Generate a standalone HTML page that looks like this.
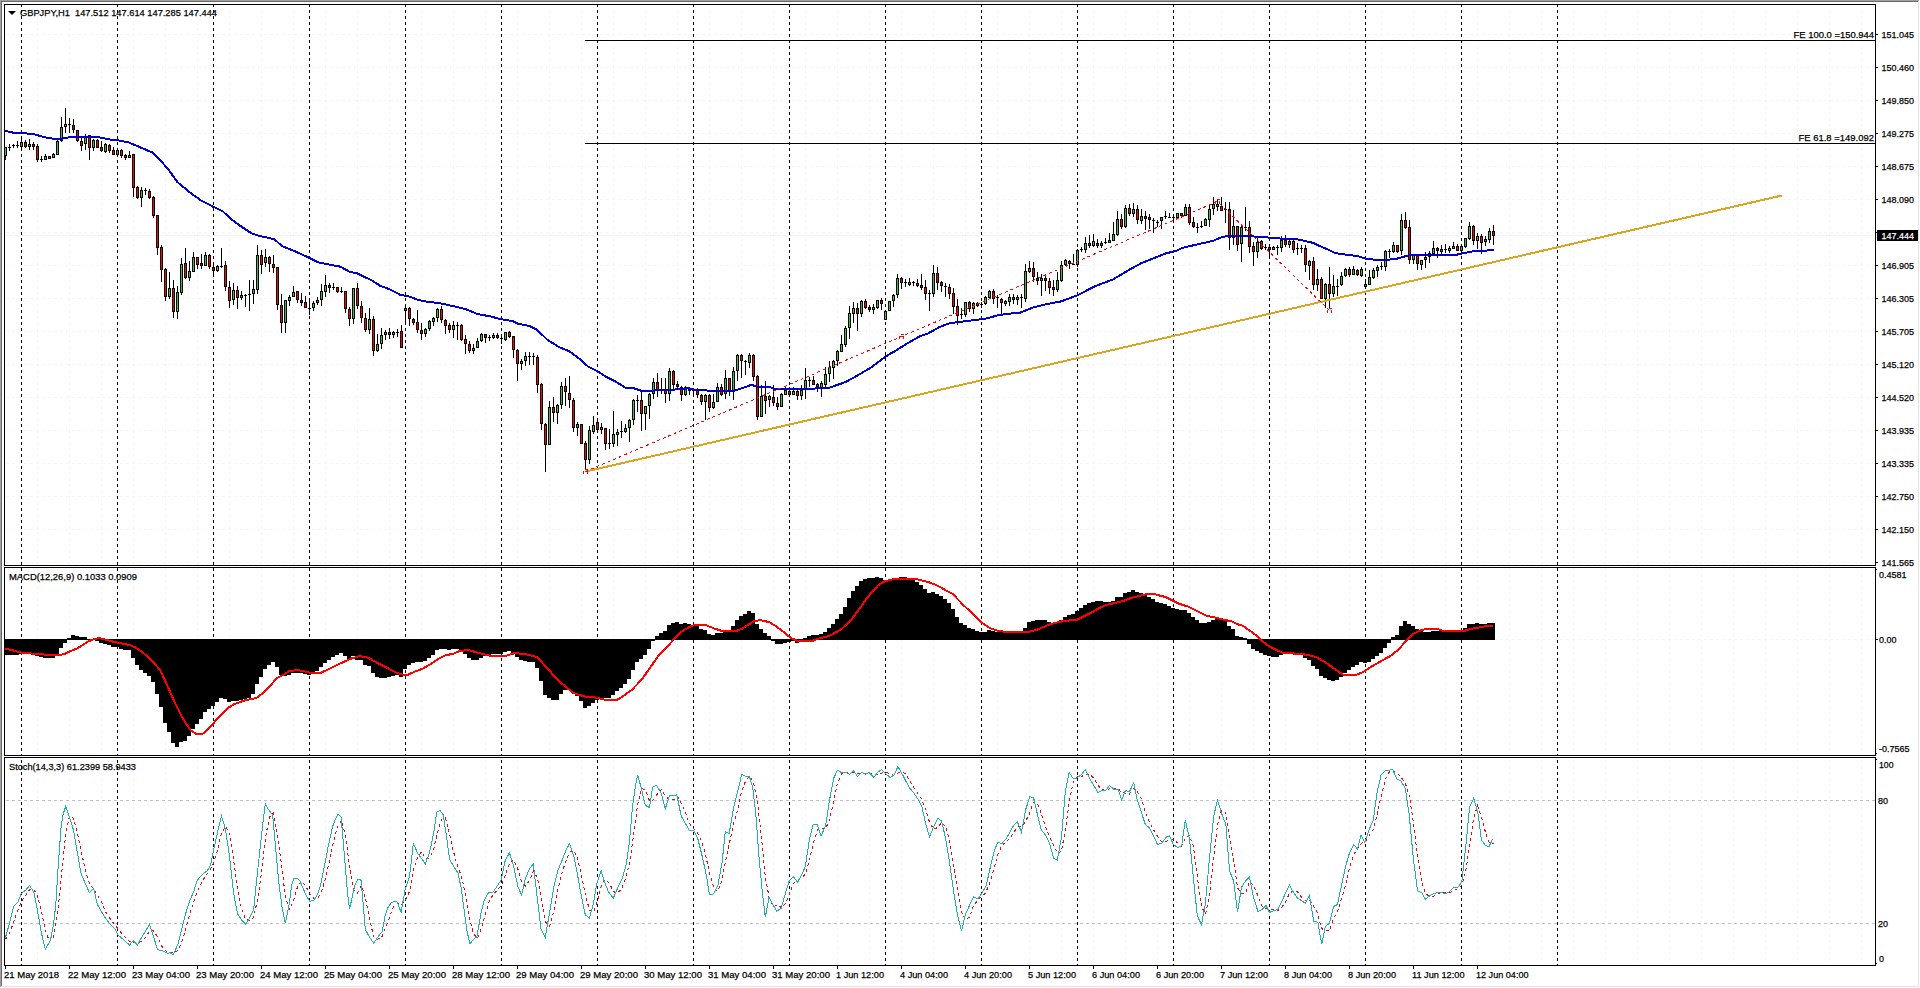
<!DOCTYPE html><html><head><meta charset="utf-8"><title>GBPJPY,H1</title>
<style>html,body{margin:0;padding:0;background:#fff;overflow:hidden}svg{display:block}text{font-family:"Liberation Sans",sans-serif;white-space:pre;fill:#000;stroke:#000;stroke-width:0.25px}</style></head><body>
<svg width="1920" height="988" viewBox="0 0 1920 988">
<rect x="0" y="0" width="1920" height="988" fill="#fff"/>
<g shape-rendering="crispEdges">
<rect x="0" y="0" width="1919" height="1" fill="#a0a0a0"/>
<rect x="0" y="0" width="1" height="987" fill="#a0a0a0"/>
<rect x="1" y="1" width="1917" height="1" fill="#696969"/>
<rect x="1" y="1" width="1" height="985" fill="#696969"/>
<rect x="1" y="986" width="1918" height="1" fill="#e3e3e3"/>
<rect x="1918" y="1" width="1" height="986" fill="#e3e3e3"/>
<path d="M37.5 4V965" stroke="#f5f5f5" stroke-width="1" stroke-dasharray="3 3" fill="none"/>
<path d="M69.5 4V965" stroke="#f5f5f5" stroke-width="1" stroke-dasharray="3 3" fill="none"/>
<path d="M101.5 4V965" stroke="#f5f5f5" stroke-width="1" stroke-dasharray="3 3" fill="none"/>
<path d="M133.5 4V965" stroke="#f5f5f5" stroke-width="1" stroke-dasharray="3 3" fill="none"/>
<path d="M165.5 4V965" stroke="#f5f5f5" stroke-width="1" stroke-dasharray="3 3" fill="none"/>
<path d="M197.5 4V965" stroke="#f5f5f5" stroke-width="1" stroke-dasharray="3 3" fill="none"/>
<path d="M229.5 4V965" stroke="#f5f5f5" stroke-width="1" stroke-dasharray="3 3" fill="none"/>
<path d="M261.5 4V965" stroke="#f5f5f5" stroke-width="1" stroke-dasharray="3 3" fill="none"/>
<path d="M293.5 4V965" stroke="#f5f5f5" stroke-width="1" stroke-dasharray="3 3" fill="none"/>
<path d="M325.5 4V965" stroke="#f5f5f5" stroke-width="1" stroke-dasharray="3 3" fill="none"/>
<path d="M357.5 4V965" stroke="#f5f5f5" stroke-width="1" stroke-dasharray="3 3" fill="none"/>
<path d="M389.5 4V965" stroke="#f5f5f5" stroke-width="1" stroke-dasharray="3 3" fill="none"/>
<path d="M421.5 4V965" stroke="#f5f5f5" stroke-width="1" stroke-dasharray="3 3" fill="none"/>
<path d="M453.5 4V965" stroke="#f5f5f5" stroke-width="1" stroke-dasharray="3 3" fill="none"/>
<path d="M485.5 4V965" stroke="#f5f5f5" stroke-width="1" stroke-dasharray="3 3" fill="none"/>
<path d="M517.5 4V965" stroke="#f5f5f5" stroke-width="1" stroke-dasharray="3 3" fill="none"/>
<path d="M549.5 4V965" stroke="#f5f5f5" stroke-width="1" stroke-dasharray="3 3" fill="none"/>
<path d="M581.5 4V965" stroke="#f5f5f5" stroke-width="1" stroke-dasharray="3 3" fill="none"/>
<path d="M613.5 4V965" stroke="#f5f5f5" stroke-width="1" stroke-dasharray="3 3" fill="none"/>
<path d="M645.5 4V965" stroke="#f5f5f5" stroke-width="1" stroke-dasharray="3 3" fill="none"/>
<path d="M677.5 4V965" stroke="#f5f5f5" stroke-width="1" stroke-dasharray="3 3" fill="none"/>
<path d="M709.5 4V965" stroke="#f5f5f5" stroke-width="1" stroke-dasharray="3 3" fill="none"/>
<path d="M741.5 4V965" stroke="#f5f5f5" stroke-width="1" stroke-dasharray="3 3" fill="none"/>
<path d="M773.5 4V965" stroke="#f5f5f5" stroke-width="1" stroke-dasharray="3 3" fill="none"/>
<path d="M805.5 4V965" stroke="#f5f5f5" stroke-width="1" stroke-dasharray="3 3" fill="none"/>
<path d="M837.5 4V965" stroke="#f5f5f5" stroke-width="1" stroke-dasharray="3 3" fill="none"/>
<path d="M869.5 4V965" stroke="#f5f5f5" stroke-width="1" stroke-dasharray="3 3" fill="none"/>
<path d="M901.5 4V965" stroke="#f5f5f5" stroke-width="1" stroke-dasharray="3 3" fill="none"/>
<path d="M933.5 4V965" stroke="#f5f5f5" stroke-width="1" stroke-dasharray="3 3" fill="none"/>
<path d="M965.5 4V965" stroke="#f5f5f5" stroke-width="1" stroke-dasharray="3 3" fill="none"/>
<path d="M997.5 4V965" stroke="#f5f5f5" stroke-width="1" stroke-dasharray="3 3" fill="none"/>
<path d="M1029.5 4V965" stroke="#f5f5f5" stroke-width="1" stroke-dasharray="3 3" fill="none"/>
<path d="M1061.5 4V965" stroke="#f5f5f5" stroke-width="1" stroke-dasharray="3 3" fill="none"/>
<path d="M1093.5 4V965" stroke="#f5f5f5" stroke-width="1" stroke-dasharray="3 3" fill="none"/>
<path d="M1125.5 4V965" stroke="#f5f5f5" stroke-width="1" stroke-dasharray="3 3" fill="none"/>
<path d="M1157.5 4V965" stroke="#f5f5f5" stroke-width="1" stroke-dasharray="3 3" fill="none"/>
<path d="M1189.5 4V965" stroke="#f5f5f5" stroke-width="1" stroke-dasharray="3 3" fill="none"/>
<path d="M1221.5 4V965" stroke="#f5f5f5" stroke-width="1" stroke-dasharray="3 3" fill="none"/>
<path d="M1253.5 4V965" stroke="#f5f5f5" stroke-width="1" stroke-dasharray="3 3" fill="none"/>
<path d="M1285.5 4V965" stroke="#f5f5f5" stroke-width="1" stroke-dasharray="3 3" fill="none"/>
<path d="M1317.5 4V965" stroke="#f5f5f5" stroke-width="1" stroke-dasharray="3 3" fill="none"/>
<path d="M1349.5 4V965" stroke="#f5f5f5" stroke-width="1" stroke-dasharray="3 3" fill="none"/>
<path d="M1381.5 4V965" stroke="#f5f5f5" stroke-width="1" stroke-dasharray="3 3" fill="none"/>
<path d="M1413.5 4V965" stroke="#f5f5f5" stroke-width="1" stroke-dasharray="3 3" fill="none"/>
<path d="M1445.5 4V965" stroke="#f5f5f5" stroke-width="1" stroke-dasharray="3 3" fill="none"/>
<path d="M1477.5 4V965" stroke="#f5f5f5" stroke-width="1" stroke-dasharray="3 3" fill="none"/>
<path d="M1509.5 4V965" stroke="#f5f5f5" stroke-width="1" stroke-dasharray="3 3" fill="none"/>
<path d="M1541.5 4V965" stroke="#f5f5f5" stroke-width="1" stroke-dasharray="3 3" fill="none"/>
<path d="M1573.5 4V965" stroke="#f5f5f5" stroke-width="1" stroke-dasharray="3 3" fill="none"/>
<path d="M1605.5 4V965" stroke="#f5f5f5" stroke-width="1" stroke-dasharray="3 3" fill="none"/>
<path d="M1637.5 4V965" stroke="#f5f5f5" stroke-width="1" stroke-dasharray="3 3" fill="none"/>
<path d="M1669.5 4V965" stroke="#f5f5f5" stroke-width="1" stroke-dasharray="3 3" fill="none"/>
<path d="M1701.5 4V965" stroke="#f5f5f5" stroke-width="1" stroke-dasharray="3 3" fill="none"/>
<path d="M1733.5 4V965" stroke="#f5f5f5" stroke-width="1" stroke-dasharray="3 3" fill="none"/>
<path d="M1765.5 4V965" stroke="#f5f5f5" stroke-width="1" stroke-dasharray="3 3" fill="none"/>
<path d="M1797.5 4V965" stroke="#f5f5f5" stroke-width="1" stroke-dasharray="3 3" fill="none"/>
<path d="M1829.5 4V965" stroke="#f5f5f5" stroke-width="1" stroke-dasharray="3 3" fill="none"/>
<path d="M1861.5 4V965" stroke="#f5f5f5" stroke-width="1" stroke-dasharray="3 3" fill="none"/>
<path d="M6 34.5H1875" stroke="#f5f5f5" stroke-width="1" stroke-dasharray="3 3" fill="none"/>
<path d="M6 67.5H1875" stroke="#f5f5f5" stroke-width="1" stroke-dasharray="3 3" fill="none"/>
<path d="M6 100.5H1875" stroke="#f5f5f5" stroke-width="1" stroke-dasharray="3 3" fill="none"/>
<path d="M6 133.5H1875" stroke="#f5f5f5" stroke-width="1" stroke-dasharray="3 3" fill="none"/>
<path d="M6 166.5H1875" stroke="#f5f5f5" stroke-width="1" stroke-dasharray="3 3" fill="none"/>
<path d="M6 199.5H1875" stroke="#f5f5f5" stroke-width="1" stroke-dasharray="3 3" fill="none"/>
<path d="M6 232.5H1875" stroke="#f5f5f5" stroke-width="1" stroke-dasharray="3 3" fill="none"/>
<path d="M6 265.5H1875" stroke="#f5f5f5" stroke-width="1" stroke-dasharray="3 3" fill="none"/>
<path d="M6 298.5H1875" stroke="#f5f5f5" stroke-width="1" stroke-dasharray="3 3" fill="none"/>
<path d="M6 331.5H1875" stroke="#f5f5f5" stroke-width="1" stroke-dasharray="3 3" fill="none"/>
<path d="M6 364.5H1875" stroke="#f5f5f5" stroke-width="1" stroke-dasharray="3 3" fill="none"/>
<path d="M6 397.5H1875" stroke="#f5f5f5" stroke-width="1" stroke-dasharray="3 3" fill="none"/>
<path d="M6 430.5H1875" stroke="#f5f5f5" stroke-width="1" stroke-dasharray="3 3" fill="none"/>
<path d="M6 463.5H1875" stroke="#f5f5f5" stroke-width="1" stroke-dasharray="3 3" fill="none"/>
<path d="M6 496.5H1875" stroke="#f5f5f5" stroke-width="1" stroke-dasharray="3 3" fill="none"/>
<path d="M6 529.5H1875" stroke="#f5f5f5" stroke-width="1" stroke-dasharray="3 3" fill="none"/>
<path d="M6 562.5H1875" stroke="#f5f5f5" stroke-width="1" stroke-dasharray="3 3" fill="none"/>
<path d="M6 639.5H1875" stroke="#f5f5f5" stroke-width="1" stroke-dasharray="3 3" fill="none"/>
<path d="M6 800.5H1875" stroke="#c0c0c0" stroke-width="1" stroke-dasharray="3 3" fill="none"/>
<path d="M6 923.5H1875" stroke="#c0c0c0" stroke-width="1" stroke-dasharray="3 3" fill="none"/>
<rect x="5" y="235" width="1870" height="1" fill="#f4f4f4"/>
<path d="M21.5 4V965" stroke="#000" stroke-width="1" stroke-dasharray="3 3" fill="none"/>
<path d="M117.5 4V965" stroke="#000" stroke-width="1" stroke-dasharray="3 3" fill="none"/>
<path d="M213.5 4V965" stroke="#000" stroke-width="1" stroke-dasharray="3 3" fill="none"/>
<path d="M309.5 4V965" stroke="#000" stroke-width="1" stroke-dasharray="3 3" fill="none"/>
<path d="M405.5 4V965" stroke="#000" stroke-width="1" stroke-dasharray="3 3" fill="none"/>
<path d="M501.5 4V965" stroke="#000" stroke-width="1" stroke-dasharray="3 3" fill="none"/>
<path d="M597.5 4V965" stroke="#000" stroke-width="1" stroke-dasharray="3 3" fill="none"/>
<path d="M693.5 4V965" stroke="#000" stroke-width="1" stroke-dasharray="3 3" fill="none"/>
<path d="M789.5 4V965" stroke="#000" stroke-width="1" stroke-dasharray="3 3" fill="none"/>
<path d="M885.5 4V965" stroke="#000" stroke-width="1" stroke-dasharray="3 3" fill="none"/>
<path d="M981.5 4V965" stroke="#000" stroke-width="1" stroke-dasharray="3 3" fill="none"/>
<path d="M1077.5 4V965" stroke="#000" stroke-width="1" stroke-dasharray="3 3" fill="none"/>
<path d="M1173.5 4V965" stroke="#000" stroke-width="1" stroke-dasharray="3 3" fill="none"/>
<path d="M1269.5 4V965" stroke="#000" stroke-width="1" stroke-dasharray="3 3" fill="none"/>
<path d="M1365.5 4V965" stroke="#000" stroke-width="1" stroke-dasharray="3 3" fill="none"/>
<path d="M1461.5 4V965" stroke="#000" stroke-width="1" stroke-dasharray="3 3" fill="none"/>
<path d="M1557.5 4V965" stroke="#000" stroke-width="1" stroke-dasharray="3 3" fill="none"/>
<path d="M5 147h1v13h-1zM9 144h1v7h-1zM13 144h1v4h-1zM17 141h1v7h-1zM21 136h1v15h-1zM25 140h1v8h-1zM29 139h1v11h-1zM33 142h1v8h-1zM37 144h1v18h-1zM41 156h1v6h-1zM45 154h1v6h-1zM49 156h1v3h-1zM53 153h1v5h-1zM57 140h1v15h-1zM61 117h1v25h-1zM65 108h1v25h-1zM69 118h1v15h-1zM73 119h1v14h-1zM77 130h1v12h-1zM81 138h1v13h-1zM85 134h1v16h-1zM89 135h1v25h-1zM93 139h1v12h-1zM97 139h1v9h-1zM101 141h1v11h-1zM105 143h1v10h-1zM109 144h1v9h-1zM113 147h1v8h-1zM117 148h1v9h-1zM121 149h1v9h-1zM125 154h1v6h-1zM129 151h1v7h-1zM133 154h1v43h-1zM137 186h1v13h-1zM141 187h1v20h-1zM145 188h1v7h-1zM149 189h1v10h-1zM153 196h1v22h-1zM157 215h1v40h-1zM161 245h1v37h-1zM165 268h1v33h-1zM169 272h1v27h-1zM173 280h1v38h-1zM177 286h1v33h-1zM181 258h1v37h-1zM185 248h1v31h-1zM189 261h1v20h-1zM193 252h1v20h-1zM197 257h1v12h-1zM201 254h1v15h-1zM205 252h1v14h-1zM209 254h1v15h-1zM213 262h1v15h-1zM217 265h1v7h-1zM221 248h1v20h-1zM225 261h1v30h-1zM229 281h1v27h-1zM233 283h1v22h-1zM237 286h1v23h-1zM241 291h1v9h-1zM245 294h1v13h-1zM249 280h1v31h-1zM253 280h1v24h-1zM257 245h1v49h-1zM261 250h1v24h-1zM265 249h1v18h-1zM269 256h1v16h-1zM273 255h1v18h-1zM277 267h1v43h-1zM281 294h1v39h-1zM285 300h1v33h-1zM289 295h1v11h-1zM293 286h1v11h-1zM297 291h1v12h-1zM301 293h1v13h-1zM305 296h1v12h-1zM309 299h1v16h-1zM313 301h1v10h-1zM317 297h1v8h-1zM321 284h1v22h-1zM325 275h1v22h-1zM329 283h1v10h-1zM333 283h1v7h-1zM337 287h1v6h-1zM341 287h1v6h-1zM345 291h1v22h-1zM349 307h1v19h-1zM353 288h1v36h-1zM357 283h1v26h-1zM361 301h1v22h-1zM365 313h1v19h-1zM369 308h1v26h-1zM373 316h1v40h-1zM377 334h1v18h-1zM381 328h1v21h-1zM385 330h1v10h-1zM389 328h1v11h-1zM393 331h1v7h-1zM397 329h1v8h-1zM401 325h1v23h-1zM405 305h1v20h-1zM409 307h1v19h-1zM413 318h1v7h-1zM417 310h1v23h-1zM421 323h1v17h-1zM425 328h1v9h-1zM429 320h1v11h-1zM433 317h1v9h-1zM437 308h1v14h-1zM441 306h1v17h-1zM445 319h1v15h-1zM449 323h1v10h-1zM453 321h1v17h-1zM457 322h1v18h-1zM461 324h1v17h-1zM465 335h1v19h-1zM469 341h1v12h-1zM473 344h1v10h-1zM477 338h1v10h-1zM481 333h1v9h-1zM485 334h1v9h-1zM489 335h1v6h-1zM493 333h1v6h-1zM497 333h1v6h-1zM501 334h1v10h-1zM505 332h1v9h-1zM509 331h1v7h-1zM513 336h1v22h-1zM517 349h1v32h-1zM521 359h1v11h-1zM525 352h1v14h-1zM529 352h1v13h-1zM533 353h1v12h-1zM537 355h1v38h-1zM541 383h1v47h-1zM545 423h1v49h-1zM549 401h1v44h-1zM553 397h1v25h-1zM557 404h1v20h-1zM561 382h1v27h-1zM565 378h1v28h-1zM569 376h1v32h-1zM573 398h1v34h-1zM577 422h1v14h-1zM581 424h1v20h-1zM585 441h1v28h-1zM589 426h1v38h-1zM593 416h1v18h-1zM597 418h1v15h-1zM601 423h1v11h-1zM605 428h1v22h-1zM609 429h1v20h-1zM613 411h1v36h-1zM617 429h1v17h-1zM621 421h1v17h-1zM625 424h1v9h-1zM629 419h1v23h-1zM633 399h1v26h-1zM637 395h1v17h-1zM641 391h1v40h-1zM645 406h1v24h-1zM649 393h1v26h-1zM653 378h1v21h-1zM657 373h1v24h-1zM661 378h1v16h-1zM665 378h1v25h-1zM669 368h1v33h-1zM673 370h1v19h-1zM677 381h1v7h-1zM681 386h1v15h-1zM685 386h1v10h-1zM689 387h1v8h-1zM693 388h1v9h-1zM697 388h1v10h-1zM701 394h1v11h-1zM705 394h1v26h-1zM709 394h1v18h-1zM713 394h1v15h-1zM717 383h1v19h-1zM721 384h1v12h-1zM725 370h1v29h-1zM729 378h1v18h-1zM733 367h1v33h-1zM737 354h1v27h-1zM741 354h1v24h-1zM745 360h1v15h-1zM749 353h1v15h-1zM753 354h1v27h-1zM757 375h1v45h-1zM761 385h1v32h-1zM765 381h1v33h-1zM769 395h1v12h-1zM773 385h1v21h-1zM777 397h1v13h-1zM781 393h1v14h-1zM785 387h1v8h-1zM789 387h1v10h-1zM793 387h1v8h-1zM797 389h1v11h-1zM801 385h1v15h-1zM805 368h1v31h-1zM809 377h1v10h-1zM813 376h1v9h-1zM817 383h1v9h-1zM821 381h1v16h-1zM825 367h1v20h-1zM829 361h1v21h-1zM833 360h1v19h-1zM837 350h1v16h-1zM841 335h1v17h-1zM845 326h1v21h-1zM849 306h1v33h-1zM853 302h1v21h-1zM857 303h1v28h-1zM861 300h1v17h-1zM865 299h1v10h-1zM869 305h1v7h-1zM873 304h1v10h-1zM877 300h1v9h-1zM881 298h1v12h-1zM885 310h1v10h-1zM889 301h1v10h-1zM893 294h1v13h-1zM897 274h1v24h-1zM901 277h1v12h-1zM905 279h1v8h-1zM909 278h1v8h-1zM913 281h1v5h-1zM917 279h1v8h-1zM921 274h1v16h-1zM925 280h1v20h-1zM929 290h1v21h-1zM933 265h1v32h-1zM937 267h1v23h-1zM941 281h1v11h-1zM945 283h1v14h-1zM949 284h1v15h-1zM953 288h1v26h-1zM957 299h1v26h-1zM961 308h1v11h-1zM965 302h1v15h-1zM969 301h1v11h-1zM973 302h1v12h-1zM977 302h1v5h-1zM981 302h1v6h-1zM985 296h1v9h-1zM989 290h1v9h-1zM993 289h1v15h-1zM997 295h1v13h-1zM1001 298h1v16h-1zM1005 300h1v6h-1zM1009 294h1v12h-1zM1013 294h1v10h-1zM1017 295h1v10h-1zM1021 294h1v14h-1zM1025 264h1v38h-1zM1029 261h1v12h-1zM1033 262h1v20h-1zM1037 272h1v13h-1zM1041 274h1v22h-1zM1045 276h1v15h-1zM1049 278h1v16h-1zM1053 280h1v16h-1zM1057 272h1v20h-1zM1061 261h1v21h-1zM1065 259h1v7h-1zM1069 260h1v9h-1zM1073 254h1v11h-1zM1077 249h1v18h-1zM1081 247h1v5h-1zM1085 237h1v16h-1zM1089 235h1v13h-1zM1093 234h1v13h-1zM1097 239h1v9h-1zM1101 241h1v7h-1zM1105 238h1v6h-1zM1109 233h1v10h-1zM1113 222h1v19h-1zM1117 211h1v25h-1zM1121 214h1v15h-1zM1125 205h1v23h-1zM1129 204h1v12h-1zM1133 203h1v14h-1zM1137 205h1v19h-1zM1141 209h1v15h-1zM1145 211h1v19h-1zM1149 214h1v15h-1zM1153 218h1v15h-1zM1157 220h1v7h-1zM1161 217h1v12h-1zM1165 211h1v8h-1zM1169 213h1v5h-1zM1173 216h1v4h-1zM1177 213h1v6h-1zM1181 213h1v5h-1zM1185 204h1v12h-1zM1189 204h1v21h-1zM1193 217h1v11h-1zM1197 223h1v10h-1zM1201 221h1v7h-1zM1205 218h1v8h-1zM1209 204h1v23h-1zM1213 197h1v18h-1zM1217 200h1v11h-1zM1221 197h1v14h-1zM1225 202h1v21h-1zM1229 202h1v48h-1zM1233 210h1v35h-1zM1237 226h1v25h-1zM1241 226h1v36h-1zM1245 207h1v24h-1zM1249 221h1v32h-1zM1253 242h1v24h-1zM1257 238h1v20h-1zM1261 240h1v10h-1zM1265 244h1v6h-1zM1269 244h1v15h-1zM1273 246h1v4h-1zM1277 245h1v10h-1zM1281 236h1v16h-1zM1285 235h1v12h-1zM1289 240h1v8h-1zM1293 240h1v13h-1zM1297 243h1v12h-1zM1301 245h1v8h-1zM1305 245h1v27h-1zM1309 260h1v20h-1zM1313 257h1v33h-1zM1317 269h1v22h-1zM1321 277h1v22h-1zM1325 283h1v25h-1zM1329 267h1v41h-1zM1333 275h1v22h-1zM1337 279h1v17h-1zM1341 272h1v14h-1zM1345 268h1v9h-1zM1349 267h1v10h-1zM1353 266h1v9h-1zM1357 269h1v7h-1zM1361 267h1v10h-1zM1365 279h1v10h-1zM1369 270h1v15h-1zM1373 268h1v11h-1zM1377 265h1v12h-1zM1381 262h1v8h-1zM1385 250h1v21h-1zM1389 249h1v9h-1zM1393 242h1v11h-1zM1397 245h1v8h-1zM1401 214h1v41h-1zM1405 212h1v17h-1zM1409 220h1v44h-1zM1413 254h1v10h-1zM1417 254h1v16h-1zM1421 260h1v10h-1zM1425 252h1v16h-1zM1429 251h1v12h-1zM1433 241h1v14h-1zM1437 247h1v11h-1zM1441 245h1v10h-1zM1445 244h1v9h-1zM1449 246h1v7h-1zM1453 242h1v7h-1zM1457 244h1v7h-1zM1461 244h1v9h-1zM1465 238h1v10h-1zM1469 222h1v18h-1zM1473 225h1v20h-1zM1477 233h1v16h-1zM1481 234h1v20h-1zM1485 236h1v10h-1zM1489 228h1v15h-1zM1493 225h1v20h-1z" fill="#000"/>
<path d="M5 147h2v9h-2zM8 147h3v1h-3zM12 145h3v1h-3zM16 145h3v1h-3zM20 142h3v5h-3zM24 142h3v5h-3zM28 144h3v3h-3zM32 144h3v3h-3zM36 146h3v14h-3zM40 159h3v1h-3zM44 156h3v4h-3zM48 156h3v3h-3zM52 154h3v4h-3zM56 141h3v14h-3zM60 127h3v14h-3zM64 124h3v3h-3zM68 124h3v1h-3zM72 125h3v5h-3zM76 130h3v11h-3zM80 141h3v5h-3zM84 136h3v8h-3zM88 135h3v13h-3zM92 140h3v8h-3zM96 140h3v8h-3zM100 147h3v4h-3zM104 144h3v8h-3zM108 145h3v6h-3zM112 150h3v5h-3zM116 150h3v5h-3zM120 150h3v6h-3zM124 155h3v3h-3zM128 155h3v3h-3zM132 154h3v34h-3zM136 187h3v11h-3zM140 190h3v8h-3zM144 190h3v1h-3zM148 191h3v7h-3zM152 197h3v19h-3zM156 215h3v33h-3zM160 247h3v23h-3zM164 269h3v28h-3zM168 288h3v9h-3zM172 288h3v24h-3zM176 292h3v20h-3zM180 264h3v29h-3zM184 263h3v15h-3zM188 271h3v7h-3zM192 257h3v15h-3zM196 257h3v8h-3zM200 263h3v3h-3zM204 255h3v11h-3zM208 255h3v12h-3zM212 267h3v4h-3zM216 266h3v5h-3zM220 266h3v1h-3zM224 265h3v22h-3zM228 287h3v14h-3zM232 290h3v10h-3zM236 290h3v8h-3zM240 295h3v3h-3zM244 295h3v1h-3zM248 294h3v1h-3zM252 289h3v5h-3zM256 255h3v35h-3zM260 255h3v10h-3zM264 257h3v6h-3zM268 257h3v7h-3zM272 264h3v4h-3zM276 267h3v38h-3zM280 305h3v18h-3zM284 300h3v23h-3zM288 297h3v4h-3zM292 292h3v5h-3zM296 291h3v9h-3zM300 300h3v3h-3zM304 302h3v6h-3zM308 308h3v1h-3zM312 303h3v5h-3zM316 300h3v3h-3zM320 291h3v9h-3zM324 285h3v7h-3zM328 285h3v3h-3zM332 287h3v1h-3zM336 287h3v5h-3zM340 291h3v1h-3zM344 291h3v18h-3zM348 309h3v10h-3zM352 288h3v31h-3zM356 288h3v18h-3zM360 306h3v12h-3zM364 318h3v12h-3zM368 319h3v11h-3zM372 319h3v32h-3zM376 344h3v7h-3zM380 335h3v9h-3zM384 332h3v3h-3zM388 332h3v3h-3zM392 332h3v3h-3zM396 332h3v1h-3zM400 331h3v17h-3zM404 308h3v3h-3zM408 308h3v11h-3zM412 319h3v4h-3zM416 322h3v8h-3zM420 330h3v4h-3zM424 329h3v5h-3zM428 321h3v8h-3zM432 318h3v4h-3zM436 309h3v9h-3zM440 309h3v11h-3zM444 320h3v6h-3zM448 325h3v5h-3zM452 325h3v5h-3zM456 325h3v1h-3zM460 325h3v15h-3zM464 339h3v5h-3zM468 344h3v7h-3zM472 348h3v3h-3zM476 341h3v7h-3zM480 334h3v7h-3zM484 334h3v4h-3zM488 337h3v1h-3zM492 335h3v3h-3zM496 335h3v3h-3zM500 338h3v1h-3zM504 332h3v8h-3zM508 332h3v5h-3zM512 336h3v14h-3zM516 350h3v14h-3zM520 361h3v3h-3zM524 356h3v5h-3zM528 356h3v1h-3zM532 356h3v1h-3zM536 357h3v28h-3zM540 384h3v40h-3zM544 424h3v21h-3zM548 407h3v38h-3zM552 407h3v6h-3zM556 405h3v8h-3zM560 386h3v19h-3zM564 386h3v6h-3zM568 393h3v7h-3zM572 400h3v28h-3zM576 424h3v4h-3zM580 424h3v20h-3zM584 443h3v17h-3zM588 430h3v30h-3zM592 425h3v7h-3zM596 422h3v8h-3zM600 427h3v3h-3zM604 428h3v16h-3zM608 443h3v1h-3zM612 434h3v10h-3zM616 432h3v3h-3zM620 431h3v1h-3zM624 428h3v4h-3zM628 420h3v8h-3zM632 400h3v20h-3zM636 400h3v1h-3zM640 400h3v14h-3zM644 406h3v8h-3zM648 394h3v12h-3zM652 382h3v12h-3zM656 382h3v8h-3zM660 390h3v1h-3zM664 390h3v4h-3zM668 371h3v23h-3zM672 371h3v14h-3zM676 384h3v3h-3zM680 387h3v8h-3zM684 387h3v8h-3zM688 388h3v3h-3zM692 390h3v1h-3zM696 390h3v5h-3zM700 395h3v7h-3zM704 395h3v7h-3zM708 395h3v13h-3zM712 402h3v6h-3zM716 387h3v15h-3zM720 387h3v8h-3zM724 378h3v16h-3zM728 378h3v14h-3zM732 371h3v21h-3zM736 355h3v16h-3zM740 355h3v6h-3zM744 361h3v1h-3zM748 355h3v8h-3zM752 355h3v22h-3zM756 376h3v41h-3zM760 396h3v21h-3zM764 396h3v5h-3zM768 396h3v4h-3zM772 397h3v6h-3zM776 403h3v4h-3zM780 394h3v13h-3zM784 390h3v5h-3zM788 391h3v4h-3zM792 391h3v4h-3zM796 391h3v5h-3zM800 390h3v6h-3zM804 380h3v10h-3zM808 380h3v1h-3zM812 380h3v5h-3zM816 384h3v3h-3zM820 383h3v5h-3zM824 374h3v11h-3zM828 367h3v7h-3zM832 361h3v7h-3zM836 351h3v10h-3zM840 344h3v8h-3zM844 328h3v17h-3zM848 313h3v15h-3zM852 308h3v6h-3zM856 308h3v6h-3zM860 301h3v13h-3zM864 301h3v7h-3zM868 307h3v3h-3zM872 307h3v3h-3zM876 300h3v8h-3zM880 300h3v4h-3zM884 311h3v9h-3zM888 301h3v10h-3zM892 295h3v6h-3zM896 278h3v17h-3zM900 278h3v5h-3zM904 282h3v1h-3zM908 282h3v3h-3zM912 282h3v1h-3zM916 283h3v3h-3zM920 285h3v3h-3zM924 287h3v7h-3zM928 293h3v1h-3zM932 273h3v21h-3zM936 273h3v10h-3zM940 282h3v4h-3zM944 286h3v1h-3zM948 287h3v7h-3zM952 293h3v14h-3zM956 306h3v10h-3zM960 314h3v1h-3zM964 302h3v13h-3zM968 302h3v7h-3zM972 303h3v6h-3zM976 303h3v3h-3zM980 304h3v1h-3zM984 297h3v7h-3zM988 291h3v7h-3zM992 291h3v8h-3zM996 297h3v1h-3zM1000 299h3v4h-3zM1004 301h3v3h-3zM1008 297h3v5h-3zM1012 297h3v3h-3zM1016 297h3v3h-3zM1020 297h3v1h-3zM1024 271h3v28h-3zM1028 268h3v4h-3zM1032 268h3v9h-3zM1036 278h3v3h-3zM1040 278h3v3h-3zM1044 278h3v3h-3zM1048 281h3v7h-3zM1052 287h3v3h-3zM1056 280h3v10h-3zM1060 265h3v16h-3zM1064 260h3v5h-3zM1068 261h3v3h-3zM1072 264h3v1h-3zM1076 250h3v15h-3zM1080 249h3v1h-3zM1084 243h3v7h-3zM1088 243h3v3h-3zM1092 241h3v5h-3zM1096 243h3v3h-3zM1100 243h3v3h-3zM1104 242h3v1h-3zM1108 240h3v3h-3zM1112 234h3v7h-3zM1116 219h3v16h-3zM1120 219h3v8h-3zM1124 208h3v19h-3zM1128 208h3v6h-3zM1132 209h3v5h-3zM1136 209h3v11h-3zM1140 216h3v5h-3zM1144 216h3v3h-3zM1148 217h3v3h-3zM1152 220h3v1h-3zM1156 222h3v1h-3zM1160 217h3v4h-3zM1164 216h3v1h-3zM1168 217h3v1h-3zM1172 217h3v1h-3zM1176 213h3v5h-3zM1180 213h3v3h-3zM1184 207h3v9h-3zM1188 207h3v16h-3zM1192 222h3v5h-3zM1196 227h3v1h-3zM1200 226h3v1h-3zM1204 219h3v7h-3zM1208 209h3v11h-3zM1212 204h3v5h-3zM1216 204h3v3h-3zM1220 206h3v5h-3zM1224 209h3v1h-3zM1228 209h3v29h-3zM1232 226h3v12h-3zM1236 226h3v19h-3zM1240 227h3v17h-3zM1244 227h3v1h-3zM1248 227h3v20h-3zM1252 246h3v6h-3zM1256 242h3v10h-3zM1260 241h3v8h-3zM1264 247h3v1h-3zM1268 247h3v3h-3zM1272 247h3v3h-3zM1276 247h3v1h-3zM1280 240h3v8h-3zM1284 240h3v5h-3zM1288 241h3v4h-3zM1292 241h3v9h-3zM1296 248h3v1h-3zM1300 248h3v1h-3zM1304 248h3v17h-3zM1308 261h3v5h-3zM1312 261h3v24h-3zM1316 279h3v6h-3zM1320 279h3v20h-3zM1324 284h3v15h-3zM1328 284h3v10h-3zM1332 286h3v8h-3zM1336 286h3v1h-3zM1340 276h3v9h-3zM1344 269h3v7h-3zM1348 269h3v6h-3zM1352 269h3v6h-3zM1356 270h3v5h-3zM1360 269h3v7h-3zM1364 284h3v3h-3zM1368 277h3v8h-3zM1372 270h3v8h-3zM1376 267h3v4h-3zM1380 266h3v1h-3zM1384 251h3v16h-3zM1388 251h3v1h-3zM1392 245h3v7h-3zM1396 245h3v7h-3zM1400 220h3v31h-3zM1404 220h3v8h-3zM1408 227h3v33h-3zM1412 255h3v5h-3zM1416 255h3v9h-3zM1420 260h3v5h-3zM1424 257h3v3h-3zM1428 253h3v4h-3zM1432 248h3v6h-3zM1436 248h3v3h-3zM1440 249h3v3h-3zM1444 249h3v1h-3zM1448 248h3v3h-3zM1452 246h3v3h-3zM1456 246h3v5h-3zM1460 246h3v5h-3zM1464 238h3v9h-3zM1468 226h3v13h-3zM1472 226h3v15h-3zM1476 236h3v5h-3zM1480 236h3v7h-3zM1484 239h3v3h-3zM1488 231h3v9h-3zM1492 231h3v5h-3z" fill="#000"/>
<path d="M25 143h1v3h-1zM33 145h1v1h-1zM37 147h1v12h-1zM49 157h1v1h-1zM73 126h1v3h-1zM77 131h1v9h-1zM81 142h1v3h-1zM89 136h1v11h-1zM97 141h1v6h-1zM101 148h1v2h-1zM109 146h1v4h-1zM113 151h1v3h-1zM121 151h1v4h-1zM125 156h1v1h-1zM133 155h1v32h-1zM137 188h1v9h-1zM149 192h1v5h-1zM153 198h1v17h-1zM157 216h1v31h-1zM161 248h1v21h-1zM165 270h1v26h-1zM173 289h1v22h-1zM185 264h1v13h-1zM197 258h1v6h-1zM201 264h1v1h-1zM209 256h1v10h-1zM213 268h1v2h-1zM225 266h1v20h-1zM229 288h1v12h-1zM237 291h1v6h-1zM261 256h1v8h-1zM269 258h1v5h-1zM273 265h1v2h-1zM277 268h1v36h-1zM281 306h1v16h-1zM297 292h1v7h-1zM301 301h1v1h-1zM305 303h1v4h-1zM329 286h1v1h-1zM337 288h1v3h-1zM345 292h1v16h-1zM349 310h1v8h-1zM357 289h1v16h-1zM361 307h1v10h-1zM365 319h1v10h-1zM373 320h1v30h-1zM389 333h1v1h-1zM401 332h1v15h-1zM409 309h1v9h-1zM413 320h1v2h-1zM417 323h1v6h-1zM421 331h1v2h-1zM441 310h1v9h-1zM445 321h1v4h-1zM449 326h1v3h-1zM461 326h1v13h-1zM465 340h1v3h-1zM469 345h1v5h-1zM485 335h1v2h-1zM497 336h1v1h-1zM509 333h1v3h-1zM513 337h1v12h-1zM517 351h1v12h-1zM537 358h1v26h-1zM541 385h1v38h-1zM545 425h1v19h-1zM553 408h1v4h-1zM565 387h1v4h-1zM569 394h1v5h-1zM573 401h1v26h-1zM581 425h1v18h-1zM585 444h1v15h-1zM597 423h1v6h-1zM605 429h1v14h-1zM641 401h1v12h-1zM657 383h1v6h-1zM665 391h1v2h-1zM673 372h1v12h-1zM677 385h1v1h-1zM681 388h1v6h-1zM689 389h1v1h-1zM697 391h1v3h-1zM701 396h1v5h-1zM709 396h1v11h-1zM721 388h1v6h-1zM729 379h1v12h-1zM741 356h1v4h-1zM753 356h1v20h-1zM757 377h1v39h-1zM765 397h1v3h-1zM773 398h1v4h-1zM777 404h1v2h-1zM789 392h1v2h-1zM797 392h1v3h-1zM813 381h1v3h-1zM817 385h1v1h-1zM857 309h1v4h-1zM865 302h1v5h-1zM869 308h1v1h-1zM881 301h1v2h-1zM901 279h1v3h-1zM917 284h1v1h-1zM921 286h1v1h-1zM925 288h1v5h-1zM937 274h1v8h-1zM941 283h1v2h-1zM949 288h1v5h-1zM953 294h1v12h-1zM957 307h1v8h-1zM969 303h1v5h-1zM977 304h1v1h-1zM993 292h1v6h-1zM1001 300h1v2h-1zM1013 298h1v1h-1zM1033 269h1v7h-1zM1037 279h1v1h-1zM1045 279h1v1h-1zM1049 282h1v5h-1zM1053 288h1v1h-1zM1069 262h1v1h-1zM1089 244h1v1h-1zM1097 244h1v1h-1zM1121 220h1v6h-1zM1129 209h1v4h-1zM1137 210h1v9h-1zM1145 217h1v1h-1zM1149 218h1v1h-1zM1181 214h1v1h-1zM1189 208h1v14h-1zM1193 223h1v3h-1zM1221 207h1v3h-1zM1229 210h1v27h-1zM1237 227h1v17h-1zM1249 228h1v18h-1zM1253 247h1v4h-1zM1261 242h1v6h-1zM1269 248h1v1h-1zM1285 241h1v3h-1zM1293 242h1v7h-1zM1305 249h1v15h-1zM1313 262h1v22h-1zM1321 280h1v18h-1zM1329 285h1v8h-1zM1349 270h1v4h-1zM1357 271h1v3h-1zM1397 246h1v5h-1zM1405 221h1v6h-1zM1409 228h1v31h-1zM1417 256h1v7h-1zM1437 249h1v1h-1zM1457 247h1v3h-1zM1473 227h1v13h-1zM1481 237h1v5h-1zM1493 232h1v3h-1z" fill="#ff0000"/>
<path d="M5 148h1v7h-1zM21 143h1v3h-1zM29 145h1v1h-1zM45 157h1v2h-1zM53 155h1v2h-1zM57 142h1v12h-1zM61 128h1v12h-1zM65 125h1v1h-1zM85 137h1v6h-1zM93 141h1v6h-1zM105 145h1v6h-1zM117 151h1v3h-1zM129 156h1v1h-1zM141 191h1v6h-1zM169 289h1v7h-1zM177 293h1v18h-1zM181 265h1v27h-1zM189 272h1v5h-1zM193 258h1v13h-1zM205 256h1v9h-1zM217 267h1v3h-1zM233 291h1v8h-1zM241 296h1v1h-1zM253 290h1v3h-1zM257 256h1v33h-1zM265 258h1v4h-1zM285 301h1v21h-1zM289 298h1v2h-1zM293 293h1v3h-1zM313 304h1v3h-1zM317 301h1v1h-1zM321 292h1v7h-1zM325 286h1v5h-1zM353 289h1v29h-1zM369 320h1v9h-1zM377 345h1v5h-1zM381 336h1v7h-1zM385 333h1v1h-1zM393 333h1v1h-1zM405 309h1v1h-1zM425 330h1v3h-1zM429 322h1v6h-1zM433 319h1v2h-1zM437 310h1v7h-1zM453 326h1v3h-1zM473 349h1v1h-1zM477 342h1v5h-1zM481 335h1v5h-1zM493 336h1v1h-1zM505 333h1v6h-1zM521 362h1v1h-1zM525 357h1v3h-1zM549 408h1v36h-1zM557 406h1v6h-1zM561 387h1v17h-1zM577 425h1v2h-1zM589 431h1v28h-1zM593 426h1v5h-1zM601 428h1v1h-1zM613 435h1v8h-1zM617 433h1v1h-1zM625 429h1v2h-1zM629 421h1v6h-1zM633 401h1v18h-1zM645 407h1v6h-1zM649 395h1v10h-1zM653 383h1v10h-1zM669 372h1v21h-1zM685 388h1v6h-1zM705 396h1v5h-1zM713 403h1v4h-1zM717 388h1v13h-1zM725 379h1v14h-1zM733 372h1v19h-1zM737 356h1v14h-1zM749 356h1v6h-1zM761 397h1v19h-1zM769 397h1v2h-1zM781 395h1v11h-1zM785 391h1v3h-1zM793 392h1v2h-1zM801 391h1v4h-1zM805 381h1v8h-1zM821 384h1v3h-1zM825 375h1v9h-1zM829 368h1v5h-1zM833 362h1v5h-1zM837 352h1v8h-1zM841 345h1v6h-1zM845 329h1v15h-1zM849 314h1v13h-1zM853 309h1v4h-1zM861 302h1v11h-1zM873 308h1v1h-1zM877 301h1v6h-1zM885 312h1v7h-1zM889 302h1v8h-1zM893 296h1v4h-1zM897 279h1v15h-1zM909 283h1v1h-1zM933 274h1v19h-1zM965 303h1v11h-1zM973 304h1v4h-1zM985 298h1v5h-1zM989 292h1v5h-1zM1005 302h1v1h-1zM1009 298h1v3h-1zM1017 298h1v1h-1zM1025 272h1v26h-1zM1029 269h1v2h-1zM1041 279h1v1h-1zM1057 281h1v8h-1zM1061 266h1v14h-1zM1065 261h1v3h-1zM1077 251h1v13h-1zM1085 244h1v5h-1zM1093 242h1v3h-1zM1101 244h1v1h-1zM1109 241h1v1h-1zM1113 235h1v5h-1zM1117 220h1v14h-1zM1125 209h1v17h-1zM1133 210h1v3h-1zM1141 217h1v3h-1zM1161 218h1v2h-1zM1177 214h1v3h-1zM1185 208h1v7h-1zM1205 220h1v5h-1zM1209 210h1v9h-1zM1213 205h1v3h-1zM1217 205h1v1h-1zM1233 227h1v10h-1zM1241 228h1v15h-1zM1257 243h1v8h-1zM1273 248h1v1h-1zM1281 241h1v6h-1zM1289 242h1v2h-1zM1309 262h1v3h-1zM1317 280h1v4h-1zM1325 285h1v13h-1zM1333 287h1v6h-1zM1341 277h1v7h-1zM1345 270h1v5h-1zM1353 270h1v4h-1zM1361 270h1v5h-1zM1365 285h1v1h-1zM1369 278h1v6h-1zM1373 271h1v6h-1zM1377 268h1v2h-1zM1385 252h1v14h-1zM1393 246h1v5h-1zM1401 221h1v29h-1zM1413 256h1v3h-1zM1421 261h1v3h-1zM1425 258h1v1h-1zM1429 254h1v2h-1zM1433 249h1v4h-1zM1441 250h1v1h-1zM1449 249h1v1h-1zM1453 247h1v1h-1zM1461 247h1v3h-1zM1465 239h1v7h-1zM1469 227h1v11h-1zM1477 237h1v3h-1zM1485 240h1v1h-1zM1489 232h1v7h-1z" fill="#2ec82e"/>
<polyline points="5.2,130.8 13.6,132.8 24.0,133.2 34.4,134.4 45.9,137.5 55.3,139.1 62.6,138.6 70.9,137.0 88.6,136.7 100.1,137.5 109.5,139.4 120.0,140.6 128.8,142.5 138.8,146.7 152.6,152.6 160.2,160.0 169.0,170.3 177.5,182.2 190.0,192.5 201.6,200.9 214.1,207.2 222.9,211.5 231.7,219.7 240.5,226.0 251.8,233.5 258.0,235.6 274.4,239.2 281.9,246.1 293.2,250.5 308.3,257.4 318.3,262.4 332.1,265.2 340.5,266.7 350.0,272.0 356.3,273.0 372.6,280.8 380.2,285.8 390.2,289.5 400.2,294.8 410.3,296.7 417.8,299.8 426.6,301.7 440.4,303.3 453.0,306.1 465.5,309.0 476.8,313.8 490.6,316.5 499.4,318.8 513.2,321.3 518.2,323.8 529.5,325.9 537.0,329.8 547.4,339.8 558.7,346.9 569.3,351.2 580.2,359.4 587.9,366.4 596.6,370.8 606.7,377.1 615.5,381.5 625.5,387.7 633.0,388.0 641.8,390.9 653.1,390.9 655.6,389.9 673.2,389.9 677.0,389.0 688.3,388.4 695.8,390.0 705.8,390.0 708.4,391.1 732.6,391.3 751.4,384.9 757.7,386.7 770.2,387.1 774.0,388.6 812.9,388.6 829.2,387.7 845.5,382.1 858.0,375.2 870.6,367.7 885.7,356.4 895.7,350.7 908.3,342.8 920.8,335.8 927.1,334.0 939.9,326.8 950.6,322.9 957.8,322.2 972.9,320.3 986.7,318.4 998.0,315.3 1008.0,313.8 1020.4,312.6 1033.6,307.3 1046.9,304.0 1060.7,301.5 1077.5,295.3 1095.0,286.2 1112.7,279.6 1128.3,270.3 1140.8,263.4 1153.4,258.4 1165.9,253.4 1176.3,250.9 1182.6,247.8 1214.0,240.6 1220.0,237.7 1227.8,235.9 1252.9,235.9 1255.4,237.1 1265.4,237.1 1273.0,238.4 1293.0,238.7 1301.8,240.2 1313.5,243.0 1320.7,246.5 1327.3,249.2 1335.5,253.2 1347.4,254.9 1357.0,255.9 1365.6,258.7 1377.0,260.0 1386.0,260.0 1396.7,258.7 1409.2,255.2 1440.6,255.2 1457.0,254.6 1472.0,251.5 1483.3,250.8 1493.6,250.0" stroke="#0000cd" stroke-width="2" fill="none" stroke-linejoin="round"/>
<rect x="585" y="40" width="1290" height="1" fill="#000"/>
<rect x="585" y="143" width="1290" height="1" fill="#000"/>
<path d="M586 471.5L1782 195.5" stroke="#DAA520" stroke-width="2" fill="none"/>
<path d="M585.5 471.5L1217.5 201.5L1329.5 310.5" stroke="#ff0000" stroke-width="1" stroke-dasharray="3 3" fill="none"/>
<path d="M585 469h3v1h-3zM583 471h1v3h-1zM587 471h1v3h-1zM901 334h3v1h-3zM899 336h1v3h-1zM903 336h1v3h-1zM1217 199h3v1h-3zM1215 201h1v3h-1zM1219 201h1v3h-1zM1329 308h3v1h-3zM1327 310h1v3h-1zM1331 310h1v3h-1z" fill="#ff0000"/>
<path d="M5 639h2v16h-2zM7 639h4v16h-4zM11 639h4v16h-4zM15 639h4v16h-4zM19 639h4v15h-4zM23 639h4v15h-4zM27 639h4v15h-4zM31 639h4v16h-4zM35 639h4v17h-4zM39 639h4v18h-4zM43 639h4v19h-4zM47 639h4v19h-4zM51 639h4v19h-4zM55 639h4v16h-4zM59 639h4v9h-4zM63 639h4v4h-4zM67 638h4v2h-4zM71 635h4v5h-4zM75 636h4v4h-4zM79 637h4v3h-4zM83 637h4v3h-4zM87 639h4v1h-4zM91 639h4v1h-4zM95 639h4v2h-4zM99 639h4v4h-4zM103 639h4v5h-4zM107 639h4v6h-4zM111 639h4v8h-4zM115 639h4v8h-4zM119 639h4v10h-4zM123 639h4v11h-4zM127 639h4v11h-4zM131 639h4v19h-4zM135 639h4v26h-4zM139 639h4v31h-4zM143 639h4v34h-4zM147 639h4v37h-4zM151 639h4v43h-4zM155 639h4v55h-4zM159 639h4v68h-4zM163 639h4v84h-4zM167 639h4v93h-4zM171 639h4v104h-4zM175 639h4v108h-4zM179 639h4v103h-4zM183 639h4v102h-4zM187 639h4v97h-4zM191 639h4v90h-4zM195 639h4v85h-4zM199 639h4v80h-4zM203 639h4v73h-4zM207 639h4v70h-4zM211 639h4v67h-4zM215 639h4v63h-4zM219 639h4v59h-4zM223 639h4v60h-4zM227 639h4v63h-4zM231 639h4v62h-4zM235 639h4v62h-4zM239 639h4v61h-4zM243 639h4v60h-4zM247 639h4v59h-4zM251 639h4v55h-4zM255 639h4v45h-4zM259 639h4v38h-4zM263 639h4v30h-4zM267 639h4v26h-4zM271 639h4v23h-4zM275 639h4v28h-4zM279 639h4v36h-4zM283 639h4v37h-4zM287 639h4v36h-4zM291 639h4v34h-4zM295 639h4v34h-4zM299 639h4v34h-4zM303 639h4v35h-4zM307 639h4v36h-4zM311 639h4v33h-4zM315 639h4v32h-4zM319 639h4v28h-4zM323 639h4v24h-4zM327 639h4v21h-4zM331 639h4v18h-4zM335 639h4v16h-4zM339 639h4v14h-4zM343 639h4v17h-4zM347 639h4v20h-4zM351 639h4v17h-4zM355 639h4v21h-4zM359 639h4v21h-4zM363 639h4v26h-4zM367 639h4v27h-4zM371 639h4v34h-4zM375 639h4v38h-4zM379 639h4v39h-4zM383 639h4v39h-4zM387 639h4v38h-4zM391 639h4v37h-4zM395 639h4v36h-4zM399 639h4v38h-4zM403 639h4v30h-4zM407 639h4v26h-4zM411 639h4v24h-4zM415 639h4v23h-4zM419 639h4v23h-4zM423 639h4v22h-4zM427 639h4v19h-4zM431 639h4v16h-4zM435 639h4v11h-4zM439 639h4v10h-4zM443 639h4v10h-4zM447 639h4v11h-4zM451 639h4v10h-4zM455 639h4v10h-4zM459 639h4v11h-4zM463 639h4v15h-4zM467 639h4v19h-4zM471 639h4v21h-4zM475 639h4v21h-4zM479 639h4v19h-4zM483 639h4v17h-4zM487 639h4v16h-4zM491 639h4v15h-4zM495 639h4v15h-4zM499 639h4v15h-4zM503 639h4v13h-4zM507 639h4v12h-4zM511 639h4v14h-4zM515 639h4v18h-4zM519 639h4v21h-4zM523 639h4v22h-4zM527 639h4v23h-4zM531 639h4v23h-4zM535 639h4v29h-4zM539 639h4v42h-4zM543 639h4v56h-4zM547 639h4v59h-4zM551 639h4v61h-4zM555 639h4v61h-4zM559 639h4v55h-4zM563 639h4v51h-4zM567 639h4v51h-4zM571 639h4v54h-4zM575 639h4v57h-4zM579 639h4v62h-4zM583 639h4v69h-4zM587 639h4v67h-4zM591 639h4v64h-4zM595 639h4v61h-4zM599 639h4v60h-4zM603 639h4v59h-4zM607 639h4v59h-4zM611 639h4v56h-4zM615 639h4v52h-4zM619 639h4v49h-4zM623 639h4v45h-4zM627 639h4v40h-4zM631 639h4v31h-4zM635 639h4v23h-4zM639 639h4v20h-4zM643 639h4v16h-4zM647 639h4v10h-4zM651 639h4v2h-4zM655 636h4v4h-4zM659 633h4v7h-4zM663 631h4v9h-4zM667 625h4v15h-4zM671 623h4v17h-4zM675 622h4v18h-4zM679 624h4v16h-4zM683 623h4v17h-4zM687 624h4v16h-4zM691 625h4v15h-4zM695 626h4v14h-4zM699 629h4v11h-4zM703 630h4v10h-4zM707 634h4v6h-4zM711 635h4v5h-4zM715 633h4v7h-4zM719 633h4v7h-4zM723 632h4v8h-4zM727 632h4v8h-4zM731 626h4v14h-4zM735 620h4v20h-4zM739 616h4v24h-4zM743 614h4v26h-4zM747 611h4v29h-4zM751 613h4v27h-4zM755 624h4v16h-4zM759 629h4v11h-4zM763 633h4v7h-4zM767 636h4v4h-4zM771 639h4v2h-4zM775 639h4v5h-4zM779 639h4v5h-4zM783 639h4v4h-4zM787 639h4v3h-4zM791 639h4v2h-4zM795 639h4v4h-4zM799 639h4v1h-4zM803 638h4v2h-4zM807 636h4v4h-4zM811 635h4v5h-4zM815 635h4v5h-4zM819 634h4v6h-4zM823 632h4v8h-4zM827 628h4v12h-4zM831 624h4v16h-4zM835 619h4v21h-4zM839 614h4v26h-4zM843 607h4v33h-4zM847 598h4v42h-4zM851 591h4v49h-4zM855 586h4v54h-4zM859 581h4v59h-4zM863 579h4v61h-4zM867 578h4v62h-4zM871 578h4v62h-4zM875 577h4v63h-4zM879 578h4v62h-4zM883 580h4v60h-4zM887 580h4v60h-4zM891 579h4v61h-4zM895 578h4v62h-4zM899 577h4v63h-4zM903 577h4v63h-4zM907 578h4v62h-4zM911 579h4v61h-4zM915 582h4v58h-4zM919 585h4v55h-4zM923 589h4v51h-4zM927 593h4v47h-4zM931 592h4v48h-4zM935 594h4v46h-4zM939 596h4v44h-4zM943 599h4v41h-4zM947 603h4v37h-4zM951 609h4v31h-4zM955 617h4v23h-4zM959 623h4v17h-4zM963 625h4v15h-4zM967 628h4v12h-4zM971 629h4v11h-4zM975 631h4v9h-4zM979 632h4v8h-4zM983 632h4v8h-4zM987 630h4v10h-4zM991 631h4v9h-4zM995 632h4v8h-4zM999 632h4v8h-4zM1003 633h4v7h-4zM1007 632h4v8h-4zM1011 632h4v8h-4zM1015 632h4v8h-4zM1019 632h4v8h-4zM1023 628h4v12h-4zM1027 622h4v18h-4zM1031 621h4v19h-4zM1035 620h4v20h-4zM1039 620h4v20h-4zM1043 620h4v20h-4zM1047 622h4v18h-4zM1051 623h4v17h-4zM1055 622h4v18h-4zM1059 620h4v20h-4zM1063 617h4v23h-4zM1067 615h4v25h-4zM1071 614h4v26h-4zM1075 611h4v29h-4zM1079 608h4v32h-4zM1083 605h4v35h-4zM1087 603h4v37h-4zM1091 602h4v38h-4zM1095 601h4v39h-4zM1099 601h4v39h-4zM1103 602h4v38h-4zM1107 602h4v38h-4zM1111 601h4v39h-4zM1115 597h4v43h-4zM1119 597h4v43h-4zM1123 593h4v47h-4zM1127 592h4v48h-4zM1131 590h4v50h-4zM1135 592h4v48h-4zM1139 593h4v47h-4zM1143 595h4v45h-4zM1147 597h4v43h-4zM1151 599h4v41h-4zM1155 602h4v38h-4zM1159 603h4v37h-4zM1163 604h4v36h-4zM1167 606h4v34h-4zM1171 608h4v32h-4zM1175 609h4v31h-4zM1179 610h4v30h-4zM1183 610h4v30h-4zM1187 613h4v27h-4zM1191 617h4v23h-4zM1195 620h4v20h-4zM1199 623h4v17h-4zM1203 623h4v17h-4zM1207 622h4v18h-4zM1211 620h4v20h-4zM1215 619h4v21h-4zM1219 620h4v20h-4zM1223 621h4v19h-4zM1227 626h4v14h-4zM1231 629h4v11h-4zM1235 636h4v4h-4zM1239 637h4v3h-4zM1243 638h4v2h-4zM1247 639h4v5h-4zM1251 639h4v10h-4zM1255 639h4v12h-4zM1259 639h4v14h-4zM1263 639h4v16h-4zM1267 639h4v17h-4zM1271 639h4v18h-4zM1275 639h4v18h-4zM1279 639h4v16h-4zM1283 639h4v15h-4zM1287 639h4v15h-4zM1291 639h4v15h-4zM1295 639h4v16h-4zM1299 639h4v16h-4zM1303 639h4v19h-4zM1307 639h4v21h-4zM1311 639h4v27h-4zM1315 639h4v30h-4zM1319 639h4v37h-4zM1323 639h4v39h-4zM1327 639h4v41h-4zM1331 639h4v42h-4zM1335 639h4v41h-4zM1339 639h4v38h-4zM1343 639h4v34h-4zM1347 639h4v31h-4zM1351 639h4v28h-4zM1355 639h4v26h-4zM1359 639h4v23h-4zM1363 639h4v24h-4zM1367 639h4v23h-4zM1371 639h4v20h-4zM1375 639h4v17h-4zM1379 639h4v14h-4zM1383 639h4v9h-4zM1387 639h4v4h-4zM1391 637h4v3h-4zM1395 635h4v5h-4zM1399 626h4v14h-4zM1403 621h4v19h-4zM1407 624h4v16h-4zM1411 626h4v14h-4zM1415 629h4v11h-4zM1419 631h4v9h-4zM1423 632h4v8h-4zM1427 632h4v8h-4zM1431 631h4v9h-4zM1435 631h4v9h-4zM1439 631h4v9h-4zM1443 631h4v9h-4zM1447 631h4v9h-4zM1451 630h4v10h-4zM1455 630h4v10h-4zM1459 630h4v10h-4zM1463 628h4v12h-4zM1467 624h4v16h-4zM1471 624h4v16h-4zM1475 623h4v17h-4zM1479 624h4v16h-4zM1483 624h4v16h-4zM1487 623h4v17h-4zM1491 623h4v17h-4z" fill="#000"/>
<polyline points="5.0,648.7 12.6,650.3 21.3,652.5 32.6,653.7 42.7,654.4 51.5,655.0 60.2,655.0 65.3,653.7 70.3,651.2 77.8,648.1 82.8,644.9 87.9,641.6 92.9,639.5 99.2,638.0 104.2,639.3 113.0,641.6 120.5,643.3 129.3,644.9 135.6,647.5 141.8,651.8 148.1,656.9 154.4,663.1 160.7,671.3 165.7,682.0 170.7,693.3 175.7,704.6 180.7,714.6 185.8,723.4 190.8,730.3 195.8,733.7 202.1,734.1 205.8,731.6 210.9,726.5 215.9,720.3 222.2,713.4 228.4,707.7 234.7,703.9 245.1,700.3 256.4,698.1 263.9,692.2 270.2,685.9 276.5,678.4 282.8,675.2 289.0,671.2 296.6,670.2 302.8,670.8 310.4,673.0 320.4,673.0 327.9,669.6 339.2,663.9 350.5,658.9 359.3,656.0 368.1,657.7 376.9,662.7 386.9,667.7 395.7,672.5 402.0,674.6 408.3,674.6 415.8,671.2 422.1,669.0 430.9,663.9 438.4,658.9 445.9,655.1 452.6,654.0 460.1,650.8 468.9,650.2 477.7,652.7 490.2,655.9 505.3,655.9 515.3,653.0 527.9,654.6 537.3,657.1 542.9,663.4 549.2,670.3 556.7,679.1 565.5,686.6 573.0,692.9 584.3,696.4 596.9,697.7 605.7,700.0 617.0,700.0 623.3,696.0 632.0,689.7 642.1,679.1 650.9,666.5 659.7,654.0 667.5,646.6 675.1,637.8 682.6,630.9 691.4,625.9 696.4,624.9 705.2,624.9 714.0,628.4 722.8,631.2 736.6,630.9 741.6,629.0 747.9,625.0 754.1,621.1 760.4,620.2 769.2,622.1 775.5,625.9 783.0,631.5 790.5,637.8 796.8,640.6 804.3,641.0 813.1,640.6 818.2,638.8 829.4,635.9 840.7,629.7 850.8,620.2 860.8,607.1 866.3,598.9 870.9,593.3 878.4,585.1 884.7,581.3 892.2,579.5 916.5,579.1 929.0,582.3 937.8,585.7 945.4,590.1 952.9,594.1 962.9,604.6 973.0,614.0 981.8,622.8 989.3,627.8 998.1,630.9 1005.6,631.9 1028.2,631.9 1037.0,629.7 1050.8,624.0 1063.3,621.1 1077.1,619.6 1085.9,615.2 1091.3,612.7 1098.8,608.3 1106.4,604.9 1115.1,602.9 1123.9,600.8 1130.2,598.2 1139.0,596.0 1147.8,593.8 1154.1,594.1 1165.4,597.0 1172.9,600.8 1177.9,603.3 1189.2,607.0 1198.0,611.4 1205.5,615.4 1218.1,618.3 1231.9,621.5 1236.9,624.0 1243.2,625.9 1248.2,629.6 1257.0,635.9 1262.0,640.9 1269.5,646.6 1275.8,649.7 1283.3,653.1 1300.9,653.8 1308.8,655.3 1316.0,656.9 1325.1,662.2 1333.9,668.4 1340.2,672.8 1344.0,675.1 1355.3,675.1 1362.8,672.2 1371.6,666.6 1380.4,661.5 1390.4,655.9 1397.9,650.2 1405.5,641.5 1413.0,633.9 1421.8,629.9 1428.1,628.7 1436.9,628.9 1443.1,630.8 1464.5,630.8 1470.7,628.9 1478.3,627.7 1485.8,626.1 1493.3,625.8" stroke="#ff0000" stroke-width="2" fill="none" stroke-linejoin="round"/>
<polyline points="5.5,939.2 9.5,933.2 13.5,922.5 17.5,911.0 21.5,901.1 25.5,895.5 29.5,889.7 33.5,889.1 37.5,895.8 41.5,911.8 45.5,930.9 49.5,941.4 53.5,938.3 57.5,914.4 61.5,875.0 65.5,835.9 69.5,816.0 73.5,818.1 77.5,833.5 81.5,852.8 85.5,870.7 89.5,883.8 93.5,888.5 97.5,895.4 101.5,901.7 105.5,911.6 109.5,917.8 113.5,923.0 117.5,928.3 121.5,933.1 125.5,937.8 129.5,941.4 133.5,942.5 137.5,943.5 141.5,941.1 145.5,937.8 149.5,931.1 153.5,930.7 157.5,936.9 161.5,945.7 165.5,950.9 169.5,951.9 173.5,953.0 177.5,950.7 181.5,943.0 185.5,929.8 189.5,915.1 193.5,902.5 197.5,891.2 201.5,882.7 205.5,875.9 209.5,871.5 213.5,863.2 217.5,850.0 221.5,833.0 225.5,826.2 229.5,834.1 233.5,859.5 237.5,887.4 241.5,908.6 245.5,919.3 249.5,920.7 253.5,917.4 257.5,900.0 261.5,872.6 265.5,837.3 269.5,816.9 273.5,813.1 277.5,834.4 281.5,865.1 285.5,897.6 289.5,909.0 293.5,901.2 297.5,886.7 301.5,880.9 305.5,885.8 309.5,893.1 313.5,898.3 317.5,898.3 321.5,891.6 325.5,878.5 329.5,860.6 333.5,841.8 337.5,826.6 341.5,820.4 345.5,835.5 349.5,866.6 353.5,889.7 357.5,893.2 361.5,885.5 365.5,898.4 369.5,917.5 373.5,936.7 377.5,939.2 381.5,937.7 385.5,928.1 389.5,917.3 393.5,907.1 397.5,903.3 401.5,904.9 405.5,900.2 409.5,891.5 413.5,869.5 417.5,857.9 421.5,851.7 425.5,858.2 429.5,858.1 433.5,849.9 437.5,832.7 441.5,819.3 445.5,818.0 449.5,833.8 453.5,851.7 457.5,865.8 461.5,876.4 465.5,894.5 469.5,917.8 473.5,934.0 477.5,938.2 481.5,927.9 485.5,914.0 489.5,900.6 493.5,894.1 497.5,889.9 501.5,885.0 505.5,874.4 509.5,863.6 513.5,859.5 517.5,867.8 521.5,881.8 525.5,886.0 529.5,880.6 533.5,871.0 537.5,878.0 541.5,898.6 545.5,922.0 549.5,926.4 553.5,912.4 557.5,891.2 561.5,874.2 565.5,861.9 569.5,852.4 573.5,850.3 577.5,857.9 581.5,875.6 585.5,895.5 589.5,910.0 593.5,912.0 597.5,900.8 601.5,885.5 605.5,879.3 609.5,883.3 613.5,891.7 617.5,893.0 621.5,888.8 625.5,878.7 629.5,862.8 633.5,835.8 637.5,805.4 641.5,788.2 645.5,790.3 649.5,800.8 653.5,799.9 657.5,793.8 661.5,789.5 665.5,796.5 669.5,799.4 673.5,799.9 677.5,796.6 681.5,803.5 685.5,812.8 689.5,823.7 693.5,828.4 697.5,833.2 701.5,840.8 705.5,854.4 709.5,873.2 713.5,886.7 717.5,891.7 721.5,881.9 725.5,861.2 729.5,842.9 733.5,823.9 737.5,810.7 741.5,792.0 745.5,781.2 749.5,776.2 753.5,782.4 757.5,802.6 761.5,837.9 765.5,878.7 769.5,899.1 773.5,906.6 777.5,904.8 781.5,907.7 785.5,903.4 789.5,893.5 793.5,883.6 797.5,879.9 801.5,878.1 805.5,874.1 809.5,859.7 813.5,842.9 817.5,829.8 821.5,828.4 825.5,828.8 829.5,820.3 833.5,801.6 837.5,783.1 841.5,774.0 845.5,771.8 849.5,773.1 853.5,772.5 857.5,773.8 861.5,773.3 865.5,774.2 869.5,773.0 873.5,774.5 877.5,774.2 881.5,773.2 885.5,772.0 889.5,773.4 893.5,775.2 897.5,773.2 901.5,771.9 905.5,773.6 909.5,780.5 913.5,787.1 917.5,793.0 921.5,799.1 925.5,809.3 929.5,822.1 933.5,829.0 937.5,827.7 941.5,822.4 945.5,826.2 949.5,840.6 953.5,863.8 957.5,889.2 961.5,912.1 965.5,920.1 969.5,917.0 973.5,905.7 977.5,900.5 981.5,896.7 985.5,893.2 989.5,883.7 993.5,870.3 997.5,855.5 1001.5,846.5 1005.5,841.8 1009.5,838.7 1013.5,832.7 1017.5,827.0 1021.5,826.7 1025.5,821.7 1029.5,813.4 1033.5,802.1 1037.5,803.4 1041.5,814.2 1045.5,826.7 1049.5,836.3 1053.5,845.4 1057.5,853.2 1061.5,851.0 1065.5,828.7 1069.5,800.1 1073.5,780.7 1077.5,776.4 1081.5,776.8 1085.5,774.0 1089.5,774.2 1093.5,777.8 1097.5,785.0 1101.5,789.1 1105.5,791.0 1109.5,788.9 1113.5,788.4 1117.5,787.9 1121.5,792.6 1125.5,793.2 1129.5,794.0 1133.5,788.5 1137.5,791.9 1141.5,798.9 1145.5,812.8 1149.5,822.0 1153.5,829.8 1157.5,836.4 1161.5,841.3 1165.5,841.9 1169.5,839.1 1173.5,839.6 1177.5,842.7 1181.5,846.0 1185.5,838.1 1189.5,835.4 1193.5,846.5 1197.5,878.4 1201.5,906.7 1205.5,914.1 1209.5,894.6 1213.5,859.1 1217.5,825.3 1221.5,810.4 1225.5,812.3 1229.5,835.8 1233.5,858.3 1237.5,887.7 1241.5,893.3 1245.5,893.3 1249.5,881.9 1253.5,885.1 1257.5,894.8 1261.5,905.7 1265.5,908.6 1269.5,909.4 1273.5,909.7 1277.5,910.9 1281.5,907.6 1285.5,901.7 1289.5,893.6 1293.5,890.4 1297.5,892.0 1301.5,897.1 1305.5,900.5 1309.5,899.7 1313.5,906.2 1317.5,912.6 1321.5,928.5 1325.5,930.6 1329.5,930.9 1333.5,918.9 1337.5,911.6 1341.5,898.9 1345.5,885.4 1349.5,868.2 1353.5,854.7 1357.5,848.9 1361.5,843.2 1365.5,841.7 1369.5,834.9 1373.5,829.1 1377.5,812.6 1381.5,794.6 1385.5,778.7 1389.5,771.8 1393.5,770.7 1397.5,773.6 1401.5,777.6 1405.5,783.9 1409.5,796.9 1413.5,822.9 1417.5,856.4 1421.5,881.1 1425.5,894.1 1429.5,895.9 1433.5,896.3 1437.5,894.1 1441.5,892.9 1445.5,892.8 1449.5,892.6 1453.5,891.0 1457.5,888.9 1461.5,885.8 1465.5,872.8 1469.5,846.3 1473.5,818.3 1477.5,805.8 1481.5,816.7 1485.5,832.4 1489.5,843.7 1493.5,843.4" stroke="#ff0000" stroke-width="1" stroke-dasharray="3 3" fill="none"/>
<polyline points="5.3,938.1 9.5,923.3 13.7,906.5 17.9,902.3 21.1,893.8 26.3,889.6 29.5,885.4 33.7,891.7 36.8,906.5 41.1,931.7 45.3,949.0 50.5,940.2 53.7,923.3 55.8,904.4 57.9,870.7 61.1,826.5 63.2,813.8 65.7,806.5 69.5,817.0 73.7,830.7 76.8,849.6 81.1,873.8 85.3,883.3 89.5,892.8 93.7,888.6 97.3,904.4 105.3,918.1 109.5,923.3 114.7,928.6 117.9,934.9 124.2,940.2 129.5,945.0 133.1,940.6 137.3,945.0 143.2,934.9 149.5,924.4 153.3,935.9 157.5,949.6 163.2,951.1 167.4,953.2 170.1,952.8 173.1,954.9 177.9,944.4 181.1,931.7 185.3,914.9 189.5,901.2 193.7,891.7 196.8,881.2 200.0,877.0 204.2,872.8 207.4,870.7 210.5,865.4 213.7,849.6 217.9,830.7 221.5,815.9 225.3,828.6 229.5,855.9 233.7,893.8 237.5,913.8 241.7,920.2 245.7,924.4 249.5,918.1 253.7,909.6 255.8,887.5 260.0,849.6 263.2,820.2 265.3,803.7 267.8,808.6 272.6,814.9 275.8,849.6 278.9,883.3 282.1,907.5 285.3,923.3 289.5,902.3 291.6,885.4 293.7,878.7 296.8,878.1 300.0,881.2 303.2,888.6 306.3,895.9 309.9,901.2 313.7,900.2 316.8,895.9 320.0,887.5 324.2,867.5 328.4,845.4 332.6,826.5 335.8,818.1 337.9,814.3 341.1,817.0 343.2,841.2 345.3,866.5 347.4,891.7 349.5,908.6 351.6,900.2 354.7,885.4 357.9,879.1 361.1,880.2 363.2,904.4 365.3,929.6 369.5,937.0 373.7,943.3 377.9,937.0 382.1,931.7 385.3,914.9 388.4,906.5 391.6,902.3 396.8,901.2 401.1,912.4 405.3,888.6 409.5,877.0 413.3,843.3 417.9,853.8 422.1,859.1 425.3,863.9 429.5,852.8 433.7,832.8 436.8,812.2 440.0,810.3 443.2,814.9 446.3,834.9 449.5,859.1 453.7,866.5 457.9,872.8 461.1,887.5 464.2,910.7 466.7,929.6 469.9,943.9 473.7,939.1 476.8,937.0 481.1,912.8 484.2,900.2 488.4,892.8 492.6,892.8 496.8,886.5 501.1,880.2 505.3,860.2 509.5,852.8 513.7,866.5 517.9,886.5 521.5,894.9 525.3,879.1 529.5,868.6 533.3,863.9 536.8,893.8 541.1,929.6 545.3,937.4 549.5,912.8 553.7,887.5 557.9,870.7 562.1,860.2 566.3,849.6 569.5,843.7 573.7,855.9 576.8,870.7 581.1,894.9 585.3,914.9 589.5,918.1 593.7,902.3 596.8,883.3 601.1,870.7 604.2,881.2 608.4,891.7 613.3,898.1 617.9,887.5 622.1,879.1 626.3,864.4 629.5,841.2 632.6,805.4 635.4,786.5 637.7,774.9 641.1,787.5 645.3,805.4 649.5,807.5 652.6,787.5 656.2,785.0 661.1,792.8 665.3,808.6 669.5,795.9 673.7,795.9 676.8,794.5 681.1,815.9 685.3,823.3 689.5,830.7 693.7,830.7 697.9,839.1 702.1,855.9 706.3,874.9 709.5,894.9 713.7,893.8 717.9,885.4 722.1,862.3 725.3,831.7 729.1,833.8 733.7,807.5 737.9,790.7 741.7,774.5 746.3,776.6 749.5,777.0 752.6,786.5 755.8,813.8 758.9,855.9 762.1,889.6 765.3,917.4 769.1,897.0 772.6,904.4 776.8,911.1 781.1,908.2 785.3,893.8 789.1,881.2 793.3,876.6 797.5,882.3 801.7,874.9 805.3,866.5 809.5,839.1 813.1,824.8 817.3,824.8 821.1,835.9 825.7,825.4 829.5,800.2 833.7,778.1 837.5,770.3 841.7,772.8 845.9,772.4 849.5,774.3 853.7,770.7 857.5,776.4 861.5,772.8 865.3,773.4 869.5,772.8 873.7,777.4 877.9,772.2 881.7,769.6 885.9,773.8 890.1,777.4 894.3,774.9 897.9,766.5 902.1,773.8 905.3,780.2 909.5,787.9 913.7,792.8 917.9,799.1 922.1,807.5 925.3,822.3 929.5,837.0 933.7,826.5 937.9,818.5 941.5,820.8 945.3,837.0 949.5,862.3 953.7,891.7 957.9,917.0 961.5,931.3 965.3,914.9 969.5,905.4 973.7,897.0 977.9,899.1 982.1,892.8 986.3,885.4 989.5,870.7 993.7,852.8 997.5,842.3 1001.7,843.7 1005.9,839.1 1009.5,832.8 1013.7,825.4 1017.3,821.8 1021.5,832.2 1025.7,809.6 1029.9,796.4 1033.7,798.1 1036.8,811.7 1041.1,829.6 1045.3,834.9 1049.5,843.3 1053.7,858.1 1057.3,860.2 1061.5,837.0 1065.3,791.7 1069.1,772.4 1073.3,778.7 1076.8,778.1 1081.1,774.9 1085.3,769.6 1089.5,778.1 1093.7,785.4 1097.9,792.4 1102.1,790.3 1105.7,790.7 1109.5,785.4 1113.7,789.2 1117.9,789.2 1121.7,800.2 1125.3,790.7 1129.5,791.7 1133.7,782.7 1137.3,800.2 1141.5,812.8 1145.3,824.4 1149.1,827.5 1153.3,835.9 1157.5,844.4 1162.1,842.9 1166.3,837.0 1169.5,835.9 1173.3,844.4 1177.5,847.5 1181.7,845.8 1185.3,819.7 1189.5,839.1 1193.7,881.2 1197.3,915.9 1201.5,924.4 1205.3,904.4 1209.5,858.1 1213.7,815.9 1217.5,800.2 1221.7,813.8 1225.9,824.4 1229.5,870.7 1233.7,881.2 1237.5,911.7 1241.5,887.5 1245.3,881.2 1249.5,877.0 1253.7,898.1 1257.9,911.3 1262.1,909.6 1265.9,905.4 1269.5,912.4 1273.7,910.7 1277.9,909.6 1281.5,902.3 1285.7,892.8 1289.5,885.4 1293.7,892.8 1297.5,898.1 1301.7,900.8 1305.3,903.3 1309.5,895.5 1313.7,921.2 1317.9,922.3 1321.7,944.4 1325.3,926.5 1329.5,923.3 1333.7,906.5 1337.5,904.4 1341.7,884.4 1345.3,867.5 1349.5,852.8 1353.7,844.4 1357.5,849.2 1361.1,834.9 1364.8,842.3 1369.1,829.6 1373.3,820.2 1376.8,793.8 1381.1,774.9 1385.3,770.7 1389.5,770.3 1392.6,769.2 1396.8,779.1 1401.1,781.2 1405.3,788.6 1409.1,813.8 1413.3,858.1 1417.5,890.7 1421.7,892.8 1425.3,899.1 1429.5,895.9 1433.7,893.8 1437.9,892.2 1441.7,892.4 1445.3,893.8 1449.5,891.7 1453.7,887.5 1457.9,887.1 1461.7,882.3 1465.9,845.4 1469.5,807.5 1473.7,798.1 1477.9,812.8 1481.5,840.2 1485.3,845.4 1489.1,846.5 1492.6,839.1" stroke="#20b2aa" stroke-width="1" fill="none"/>
<rect x="4" y="4" width="1872" height="1" fill="#000"/>
<rect x="4" y="4" width="1" height="962" fill="#000"/>
<rect x="1875" y="4" width="1" height="962" fill="#000"/>
<rect x="4" y="565" width="1872" height="1" fill="#000"/>
<rect x="4" y="567" width="1872" height="1" fill="#000"/>
<rect x="4" y="755" width="1872" height="1" fill="#000"/>
<rect x="4" y="757" width="1872" height="1" fill="#000"/>
<rect x="4" y="965" width="1872" height="1" fill="#000"/>
<rect x="2" y="566" width="1874" height="1" fill="#fff"/>
<rect x="2" y="756" width="1874" height="1" fill="#fff"/>
<rect x="1876" y="34" width="2" height="1" fill="#000"/>
<rect x="1876" y="67" width="2" height="1" fill="#000"/>
<rect x="1876" y="100" width="2" height="1" fill="#000"/>
<rect x="1876" y="133" width="2" height="1" fill="#000"/>
<rect x="1876" y="166" width="2" height="1" fill="#000"/>
<rect x="1876" y="199" width="2" height="1" fill="#000"/>
<rect x="1876" y="232" width="2" height="1" fill="#000"/>
<rect x="1876" y="265" width="2" height="1" fill="#000"/>
<rect x="1876" y="298" width="2" height="1" fill="#000"/>
<rect x="1876" y="331" width="2" height="1" fill="#000"/>
<rect x="1876" y="364" width="2" height="1" fill="#000"/>
<rect x="1876" y="397" width="2" height="1" fill="#000"/>
<rect x="1876" y="430" width="2" height="1" fill="#000"/>
<rect x="1876" y="463" width="2" height="1" fill="#000"/>
<rect x="1876" y="496" width="2" height="1" fill="#000"/>
<rect x="1876" y="529" width="2" height="1" fill="#000"/>
<rect x="1876" y="562" width="2" height="1" fill="#000"/>
<rect x="1876" y="639" width="2" height="1" fill="#000"/>
<rect x="1876" y="569" width="1" height="1" fill="#000"/>
<rect x="1876" y="753" width="1" height="1" fill="#000"/>
<rect x="1876" y="759" width="1" height="1" fill="#000"/>
<rect x="1876" y="963" width="1" height="1" fill="#000"/>
<rect x="5" y="966" width="1" height="3" fill="#000"/>
<rect x="69" y="966" width="1" height="3" fill="#000"/>
<rect x="133" y="966" width="1" height="3" fill="#000"/>
<rect x="197" y="966" width="1" height="3" fill="#000"/>
<rect x="261" y="966" width="1" height="3" fill="#000"/>
<rect x="325" y="966" width="1" height="3" fill="#000"/>
<rect x="389" y="966" width="1" height="3" fill="#000"/>
<rect x="453" y="966" width="1" height="3" fill="#000"/>
<rect x="517" y="966" width="1" height="3" fill="#000"/>
<rect x="581" y="966" width="1" height="3" fill="#000"/>
<rect x="645" y="966" width="1" height="3" fill="#000"/>
<rect x="709" y="966" width="1" height="3" fill="#000"/>
<rect x="773" y="966" width="1" height="3" fill="#000"/>
<rect x="837" y="966" width="1" height="3" fill="#000"/>
<rect x="901" y="966" width="1" height="3" fill="#000"/>
<rect x="965" y="966" width="1" height="3" fill="#000"/>
<rect x="1029" y="966" width="1" height="3" fill="#000"/>
<rect x="1093" y="966" width="1" height="3" fill="#000"/>
<rect x="1157" y="966" width="1" height="3" fill="#000"/>
<rect x="1221" y="966" width="1" height="3" fill="#000"/>
<rect x="1285" y="966" width="1" height="3" fill="#000"/>
<rect x="1349" y="966" width="1" height="3" fill="#000"/>
<rect x="1413" y="966" width="1" height="3" fill="#000"/>
<rect x="1477" y="966" width="1" height="3" fill="#000"/>
<path d="M8 11h8l-4 4z" fill="#000" shape-rendering="geometricPrecision"/>
</g>
<text x="20" y="16" font-size="9.9" textLength="197" lengthAdjust="spacingAndGlyphs">GBPJPY,H1  147.512 147.614 147.285 147.444</text>
<text x="9" y="580" font-size="9.9" textLength="128" lengthAdjust="spacingAndGlyphs">MACD(12,26,9) 0.1033 0.0909</text>
<text x="9" y="770" font-size="9.9" textLength="127" lengthAdjust="spacingAndGlyphs">Stoch(14,3,3) 61.2399 58.9433</text>
<text x="1793.5" y="37.9" font-size="9.9" textLength="80.5" lengthAdjust="spacingAndGlyphs">FE 100.0 =150.944</text>
<text x="1798.5" y="140.9" font-size="9.9" textLength="75.5" lengthAdjust="spacingAndGlyphs">FE 61.8 =149.092</text>
<text x="1881.5" y="37.8" font-size="9.9" textLength="32.5" lengthAdjust="spacingAndGlyphs">151.045</text>
<text x="1881.5" y="70.8" font-size="9.9" textLength="32.5" lengthAdjust="spacingAndGlyphs">150.460</text>
<text x="1881.5" y="103.8" font-size="9.9" textLength="32.5" lengthAdjust="spacingAndGlyphs">149.850</text>
<text x="1881.5" y="136.8" font-size="9.9" textLength="32.5" lengthAdjust="spacingAndGlyphs">149.275</text>
<text x="1881.5" y="169.8" font-size="9.9" textLength="32.5" lengthAdjust="spacingAndGlyphs">148.675</text>
<text x="1881.5" y="202.8" font-size="9.9" textLength="32.5" lengthAdjust="spacingAndGlyphs">148.090</text>
<text x="1881.5" y="268.8" font-size="9.9" textLength="32.5" lengthAdjust="spacingAndGlyphs">146.905</text>
<text x="1881.5" y="301.8" font-size="9.9" textLength="32.5" lengthAdjust="spacingAndGlyphs">146.305</text>
<text x="1881.5" y="334.8" font-size="9.9" textLength="32.5" lengthAdjust="spacingAndGlyphs">145.705</text>
<text x="1881.5" y="367.8" font-size="9.9" textLength="32.5" lengthAdjust="spacingAndGlyphs">145.120</text>
<text x="1881.5" y="400.8" font-size="9.9" textLength="32.5" lengthAdjust="spacingAndGlyphs">144.520</text>
<text x="1881.5" y="433.8" font-size="9.9" textLength="32.5" lengthAdjust="spacingAndGlyphs">143.935</text>
<text x="1881.5" y="466.8" font-size="9.9" textLength="32.5" lengthAdjust="spacingAndGlyphs">143.335</text>
<text x="1881.5" y="499.8" font-size="9.9" textLength="32.5" lengthAdjust="spacingAndGlyphs">142.750</text>
<text x="1881.5" y="532.8" font-size="9.9" textLength="32.5" lengthAdjust="spacingAndGlyphs">142.150</text>
<text x="1881.5" y="565.8" font-size="9.9" textLength="32.5" lengthAdjust="spacingAndGlyphs">141.565</text>
<text x="1881.5" y="235.8" font-size="9.9" textLength="32.5" lengthAdjust="spacingAndGlyphs">147.495</text>
<rect x="1877" y="230" width="41" height="11" fill="#000" shape-rendering="crispEdges"/>
<text x="1881.5" y="239" font-size="9.9" textLength="32.5" lengthAdjust="spacingAndGlyphs" style="fill:#fff;stroke:#fff">147.444</text>
<text x="1879" y="578" font-size="9.9" textLength="27.5" lengthAdjust="spacingAndGlyphs">0.4581</text>
<text x="1879" y="642.9" font-size="9.9" textLength="17.5" lengthAdjust="spacingAndGlyphs">0.00</text>
<text x="1879" y="752" font-size="9.9" textLength="30.5" lengthAdjust="spacingAndGlyphs">-0.7565</text>
<text x="1879" y="768" font-size="9.9" textLength="14.5" lengthAdjust="spacingAndGlyphs">100</text>
<text x="1878" y="803.6" font-size="9.9" textLength="10" lengthAdjust="spacingAndGlyphs">80</text>
<text x="1878" y="926.6" font-size="9.9" textLength="10" lengthAdjust="spacingAndGlyphs">20</text>
<text x="1879" y="961.7" font-size="9.9" textLength="5" lengthAdjust="spacingAndGlyphs">0</text>
<text x="4" y="978.3" font-size="9.9" textLength="55" lengthAdjust="spacingAndGlyphs">21 May 2018</text>
<text x="68" y="978.3" font-size="9.9" textLength="58" lengthAdjust="spacingAndGlyphs">22 May 12:00</text>
<text x="132" y="978.3" font-size="9.9" textLength="58" lengthAdjust="spacingAndGlyphs">23 May 04:00</text>
<text x="196" y="978.3" font-size="9.9" textLength="58" lengthAdjust="spacingAndGlyphs">23 May 20:00</text>
<text x="260" y="978.3" font-size="9.9" textLength="58" lengthAdjust="spacingAndGlyphs">24 May 12:00</text>
<text x="324" y="978.3" font-size="9.9" textLength="58" lengthAdjust="spacingAndGlyphs">25 May 04:00</text>
<text x="388" y="978.3" font-size="9.9" textLength="58" lengthAdjust="spacingAndGlyphs">25 May 20:00</text>
<text x="452" y="978.3" font-size="9.9" textLength="58" lengthAdjust="spacingAndGlyphs">28 May 12:00</text>
<text x="516" y="978.3" font-size="9.9" textLength="58" lengthAdjust="spacingAndGlyphs">29 May 04:00</text>
<text x="580" y="978.3" font-size="9.9" textLength="58" lengthAdjust="spacingAndGlyphs">29 May 20:00</text>
<text x="644" y="978.3" font-size="9.9" textLength="58" lengthAdjust="spacingAndGlyphs">30 May 12:00</text>
<text x="708" y="978.3" font-size="9.9" textLength="58" lengthAdjust="spacingAndGlyphs">31 May 04:00</text>
<text x="772" y="978.3" font-size="9.9" textLength="58" lengthAdjust="spacingAndGlyphs">31 May 20:00</text>
<text x="836" y="978.3" font-size="9.9" textLength="48" lengthAdjust="spacingAndGlyphs">1 Jun 12:00</text>
<text x="900" y="978.3" font-size="9.9" textLength="48" lengthAdjust="spacingAndGlyphs">4 Jun 04:00</text>
<text x="964" y="978.3" font-size="9.9" textLength="48" lengthAdjust="spacingAndGlyphs">4 Jun 20:00</text>
<text x="1028" y="978.3" font-size="9.9" textLength="48" lengthAdjust="spacingAndGlyphs">5 Jun 12:00</text>
<text x="1092" y="978.3" font-size="9.9" textLength="48" lengthAdjust="spacingAndGlyphs">6 Jun 04:00</text>
<text x="1156" y="978.3" font-size="9.9" textLength="48" lengthAdjust="spacingAndGlyphs">6 Jun 20:00</text>
<text x="1220" y="978.3" font-size="9.9" textLength="48" lengthAdjust="spacingAndGlyphs">7 Jun 12:00</text>
<text x="1284" y="978.3" font-size="9.9" textLength="48" lengthAdjust="spacingAndGlyphs">8 Jun 04:00</text>
<text x="1348" y="978.3" font-size="9.9" textLength="48" lengthAdjust="spacingAndGlyphs">8 Jun 20:00</text>
<text x="1412" y="978.3" font-size="9.9" textLength="52.5" lengthAdjust="spacingAndGlyphs">11 Jun 12:00</text>
<text x="1476" y="978.3" font-size="9.9" textLength="52.5" lengthAdjust="spacingAndGlyphs">12 Jun 04:00</text>
</svg></body></html>
